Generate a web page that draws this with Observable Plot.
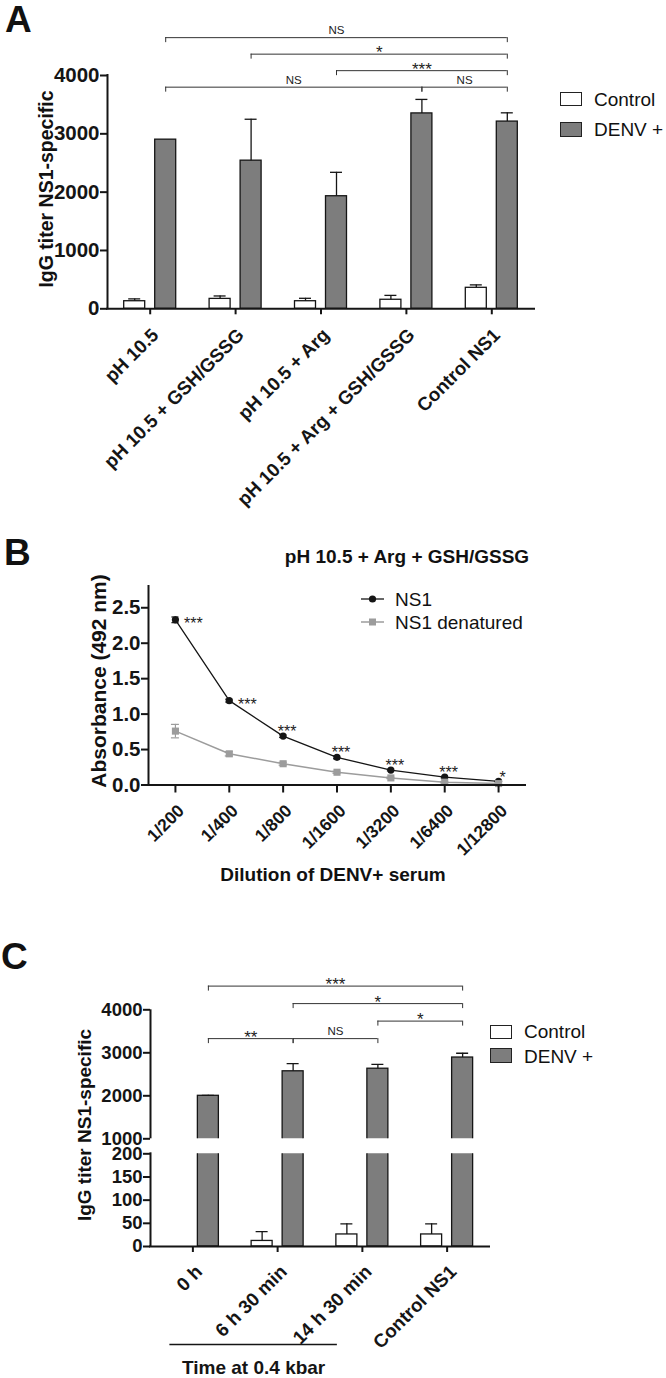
<!DOCTYPE html>
<html><head><meta charset="utf-8">
<script src="https://cdn.jsdelivr.net/npm/d3@7"></script>
<script src="https://cdn.jsdelivr.net/npm/@observablehq/plot@0.6"></script>
<style>
body{margin:0;background:#fff;}
#fig{position:relative;width:666px;height:1378px;overflow:hidden;background:#fff;font-family:"Liberation Sans",Arial,Helvetica,sans-serif;color:#111;}
#fig svg{position:absolute;left:0;overflow:visible;}
.t{position:absolute;white-space:nowrap;line-height:1;}
.box{position:absolute;box-sizing:border-box;border:1.3px solid #222;}
</style></head><body><div id="fig"></div><script>
// ================= DATA =================
// Panel A
const groupsA = ["pH 10.5", "pH 10.5 + GSH/GSSG", "pH 10.5 + Arg", "pH 10.5 + Arg + GSH/GSSG", "Control NS1"];
const seriesNames = ["Control", "DENV +"];
const controlA = [130, 170, 130, 155, 360];
const controlAErr = [40, 50, 50, 75, 50];
const denvA = [2900, 2540, 1930, 3350, 3210];
const denvAErr = [0, 710, 410, 240, 150];
const ticksA = [0, 1000, 2000, 3000, 4000];
const bracketsA = [
  {from: 0, to: 4, label: "NS", level: 3},
  {from: 1, to: 4, label: "*", level: 2},
  {from: 2, to: 4, label: "***", level: 1},
  {from: 0, to: 3, label: "NS", level: 0},
  {from: 3, to: 4, label: "NS", level: 0}
];
// Panel B
const titleB = "pH 10.5 + Arg + GSH/GSSG";
const dilutions = ["1/200", "1/400", "1/800", "1/1600", "1/3200", "1/6400", "1/12800"];
const ns1 = [2.33, 1.19, 0.69, 0.39, 0.21, 0.11, 0.05];
const ns1Err = [0.04, 0.02, 0.02, 0.02, 0.01, 0.01, 0.005];
const denat = [0.76, 0.44, 0.30, 0.18, 0.10, 0.04, 0.02];
const denatErr = [0.095, 0.03, 0.02, 0.015, 0.01, 0.01, 0.005];
const sigB = ["***", "***", "***", "***", "***", "***", "*"];
const ticksB = [0, 0.5, 1, 1.5, 2, 2.5];
const seriesB = ["NS1", "NS1 denatured"];
// Panel C
const groupsC = ["0 h", "6 h 30 min", "14 h 30 min", "Control NS1"];
const controlC = [0, 12, 26, 26];
const controlCErr = [0, 20, 23, 23];
const denvC = [2000, 2570, 2630, 2890];
const denvCErr = [12, 180, 100, 100];
const ticksCUpper = [1000, 2000, 3000, 4000];
const ticksCLower = [0, 50, 100, 150, 200];
const bracketsC = [
  {from: 0, to: 3, label: "***", level: 3},
  {from: 1, to: 3, label: "*", level: 2},
  {from: 2, to: 3, label: "*", level: 1},
  {from: 0, to: 1, label: "**", level: 0},
  {from: 1, to: 2, label: "NS", level: 0}
];
const timeSpanC = {from: 0, to: 2, label: "Time at 0.4 kbar"};

// ================= STYLE =================
const FONT = '"Liberation Sans", Arial, Helvetica, sans-serif';
const INK = "#151515";
const fills = {"Control": "#ffffff", "DENV +": "#7d7d7d"};
const GRAY = "#9c9c9c";
const BAR_W = 21, BAR_OFF = 15.5;
const fig = document.getElementById("fig");

function mkPlot(top, height, frame, opts) {
  const svg = Plot.plot({
    width: 666, height,
    marginLeft: frame.left, marginRight: 666 - frame.right,
    marginTop: frame.top - top, marginBottom: top + height - frame.bottom,
    style: {background: "transparent", overflow: "visible", fontFamily: FONT, fontSize: "19px", fontWeight: "bold", color: INK},
    ...opts
  });
  svg.style.top = top + "px";
  fig.appendChild(svg);
}

function rowsOf(groups, ctrl, ctrlErr, denv, denvErr) {
  return seriesNames.flatMap(s => groups.map((g, i) => ({
    i, group: g, series: s,
    value: s === "Control" ? ctrl[i] : denv[i],
    err: s === "Control" ? ctrlErr[i] : denvErr[i]
  })));
}

function barMarks(rows, bw, clip) {
  const marks = [];
  for (const s of seriesNames) {
    const off = s === "Control" ? -BAR_OFF : BAR_OFF;
    const data = rows.filter(r => r.series === s && r.value > 0);
    marks.push(Plot.rect(data, {
      x1: r => r.i - 0.5, x2: r => r.i + 0.5, y1: 0, y2: "value",
      insetLeft: bw / 2 + off - BAR_W / 2, insetRight: bw / 2 - off - BAR_W / 2,
      fill: fills[s], stroke: INK, strokeWidth: 1.3, clip
    }));
    const e = data.filter(r => r.err > 0);
    marks.push(Plot.ruleX(e, {x: "i", y1: "value", y2: r => r.value + r.err, dx: off, stroke: INK, strokeWidth: 1.3, clip}));
    marks.push(Plot.ruleY(e, {x1: "i", x2: "i", y: r => r.value + r.err, dx: off, insetLeft: -6, insetRight: -6, stroke: INK, strokeWidth: 1.3, clip}));
  }
  return marks;
}

function bracketMarks(brackets, yLevel) {
  const ends = brackets.flatMap(b => [{x: b.from, level: b.level}, {x: b.to, level: b.level}]);
  return [
    Plot.ruleY(brackets, {x1: "from", x2: "to", y: d => yLevel(d.level), dx: BAR_OFF, stroke: "#333", strokeWidth: 1}),
    Plot.ruleX(ends, {x: "x", y1: d => yLevel(d.level), y2: d => yLevel(d.level), dx: BAR_OFF, insetBottom: -5, stroke: "#333", strokeWidth: 1}),
    Plot.text(brackets.filter(d => d.label === "NS"), {x: d => (d.from + d.to) / 2, y: d => yLevel(d.level), text: "label", dx: BAR_OFF, dy: -3.5, lineAnchor: "bottom", fontSize: 11.5, fontWeight: "normal", fill: "#222"}),
    Plot.text(brackets.filter(d => d.label !== "NS"), {x: d => (d.from + d.to) / 2, y: d => yLevel(d.level), text: "label", dx: BAR_OFF, dy: 4, lineAnchor: "bottom", fontSize: 17, fontWeight: "normal", fill: "#222"})
  ];
}

function xLabels(labels, size, dx, dy) {
  return Plot.text(labels, {x: (d, i) => i, frameAnchor: "bottom", text: d => d, rotate: -45, textAnchor: "end", lineAnchor: "top", dx, dy, fontSize: size, fontWeight: "bold"});
}

// ---------- Panel A ----------
{
  const frame = {left: 107, right: 534, top: 75, bottom: 308.3};
  const n = groupsA.length, bw = (frame.right - frame.left) / n;
  const xDom = [-0.5, n - 0.5];
  const rows = rowsOf(groupsA, controlA, controlAErr, denvA, denvAErr);
  mkPlot(0, 540, frame, {
    x: {domain: xDom}, y: {domain: [0, 4000]},
    marks: [
      ...barMarks(rows, bw, false),
      Plot.axisY({ticks: ticksA, tickFormat: d => String(d), tickSize: 7, tickPadding: 1, fontSize: 20.5, fontWeight: "bold", strokeWidth: 2, label: null}),
      Plot.axisX({ticks: groupsA.map((d, i) => i), tickFormat: () => "", tickSize: 6, strokeWidth: 2, label: null}),
      Plot.ruleX([xDom[0]], {stroke: INK, strokeWidth: 2, strokeLinecap: "square"}),
      Plot.ruleY([0], {stroke: INK, strokeWidth: 2, strokeLinecap: "square"}),
      ...bracketMarks(bracketsA, l => 3800 + 283 * l),
      xLabels(groupsA, 18.8, 0, 18)
    ]
  });
}

// ---------- Panel B ----------
{
  const frame = {left: 148, right: 525, top: 586, bottom: 784.5};
  const xDom = [-0.5, dilutions.length - 0.5];
  const ns1Rows = dilutions.map((d, i) => ({i, value: ns1[i], err: ns1Err[i], sig: sigB[i]}));
  const denRows = dilutions.map((d, i) => ({i, value: denat[i], err: denatErr[i]}));
  const errMarks = (rows, color, capW) => [
    Plot.ruleX(rows, {x: "i", y1: r => r.value - r.err, y2: r => r.value + r.err, stroke: color, strokeWidth: 1.2}),
    Plot.ruleY(rows, {x1: "i", x2: "i", y: r => r.value + r.err, insetLeft: -capW, insetRight: -capW, stroke: color, strokeWidth: 1.2}),
    Plot.ruleY(rows, {x1: "i", x2: "i", y: r => r.value - r.err, insetLeft: -capW, insetRight: -capW, stroke: color, strokeWidth: 1.2})
  ];
  mkPlot(540, 360, frame, {
    x: {domain: xDom}, y: {domain: [0, 2.8]},
    marks: [
      Plot.line(ns1Rows, {x: "i", y: "value", stroke: INK, strokeWidth: 1.3}),
      ...errMarks(ns1Rows, INK, 3.5),
      Plot.dot(ns1Rows, {x: "i", y: "value", r: 3.6, fill: INK}),
      Plot.line(denRows, {x: "i", y: "value", stroke: GRAY, strokeWidth: 1.5}),
      ...errMarks(denRows, GRAY, 4),
      Plot.dot(denRows, {x: "i", y: "value", r: 4, symbol: "square", fill: GRAY}),
      Plot.text(ns1Rows.slice(0, 2), {x: "i", y: "value", text: "sig", dx: 18, dy: 4, fontSize: 16, fontWeight: "normal", fill: "#222"}),
      Plot.text(ns1Rows.slice(2), {x: "i", y: "value", text: "sig", dx: 4, dy: -4, fontSize: 16, fontWeight: "normal", fill: "#222"}),
      Plot.axisY({ticks: ticksB, tickFormat: d3.format(".1f"), tickSize: 7, tickPadding: 1, fontSize: 20.5, fontWeight: "bold", strokeWidth: 2, label: null}),
      Plot.axisX({ticks: dilutions.map((d, i) => i), tickFormat: () => "", tickSize: 8, strokeWidth: 2, label: null}),
      Plot.ruleX([xDom[0]], {stroke: INK, strokeWidth: 2, strokeLinecap: "square"}),
      Plot.ruleY([0], {stroke: INK, strokeWidth: 2, strokeLinecap: "square"}),
      xLabels(dilutions, 17.5, 1, 18)
    ]
  });
}

// ---------- Panel C (broken axis: two segments) ----------
{
  const left = 150, right = 489;
  const n = groupsC.length, bw = (right - left) / n;
  const xDom = [-0.5, n - 0.5];
  const rows = rowsOf(groupsC, controlC, controlCErr, denvC, denvCErr);
  // upper segment 1000-4000
  mkPlot(900, 250, {left, right, top: 1009.3, bottom: 1138.3}, {
    x: {domain: xDom, axis: null}, y: {domain: [ticksCUpper[0], ticksCUpper[ticksCUpper.length - 1]]},
    marks: [
      ...barMarks(rows, bw, true),
      Plot.axisY({ticks: ticksCUpper, tickFormat: d => String(d), tickSize: 7, tickPadding: 1, fontSize: 18.5, fontWeight: "bold", strokeWidth: 2, label: null}),
      Plot.ruleX([xDom[0]], {stroke: INK, strokeWidth: 2}),
      ...bracketMarks(bracketsC, l => 3330 + 407 * l)
    ]
  });
  // lower segment 0-200
  mkPlot(1140, 238, {left, right, top: 1153.3, bottom: 1246}, {
    x: {domain: xDom}, y: {domain: [ticksCLower[0], ticksCLower[ticksCLower.length - 1]]},
    marks: [
      ...barMarks(rows, bw, true),
      Plot.axisY({ticks: ticksCLower, tickFormat: d => String(d), tickSize: 7, tickPadding: 1, fontSize: 18.5, fontWeight: "bold", strokeWidth: 2, label: null}),
      Plot.axisX({ticks: groupsC.map((d, i) => i), tickFormat: () => "", tickSize: 6, strokeWidth: 2, label: null}),
      Plot.ruleX([xDom[0]], {stroke: INK, strokeWidth: 2, strokeLinecap: "square"}),
      Plot.ruleY([0], {stroke: INK, strokeWidth: 2, strokeLinecap: "square"}),
      xLabels(groupsC, 18.8, 1, 17),
      Plot.ruleY([0], {x1: timeSpanC.from, x2: timeSpanC.to, dy: 98, insetLeft: -23, insetRight: 25, stroke: INK, strokeWidth: 1.5}),
      Plot.text([timeSpanC], {x: d => (d.from + d.to) / 2, frameAnchor: "bottom", text: "label", dx: -24, dy: 127, lineAnchor: "bottom", fontSize: 19, fontWeight: "bold"})
    ]
  });
}

// ================= HTML TEXT, TITLES, LEGENDS =================
function txt(s, x, baseline, size, weight, align) {
  const d = document.createElement("div");
  d.className = "t";
  d.textContent = s;
  d.style.fontSize = size + "px";
  d.style.fontWeight = weight;
  d.style.top = (baseline - 0.8465 * size) + "px";
  d.style.left = x + "px";
  if (align === "center") d.style.transform = "translateX(-50%)";
  fig.appendChild(d);
}
function rotTxt(s, cx, cy, size) {
  const d = document.createElement("div");
  d.className = "t";
  d.textContent = s;
  d.style.fontSize = size + "px";
  d.style.fontWeight = "bold";
  d.style.left = cx + "px";
  d.style.top = cy + "px";
  d.style.transform = "translate(-50%,-50%) rotate(-90deg)";
  fig.appendChild(d);
}
function box(x, y, w, h, fill) {
  const d = document.createElement("div");
  d.className = "box";
  Object.assign(d.style, {left: x + "px", top: y + "px", width: w + "px", height: h + "px", background: fill});
  fig.appendChild(d);
}
// panel letters
txt("A", 5, 32, 37, "bold");
txt("B", 4, 565, 37, "bold");
txt("C", 1, 969, 37, "bold");
// axis titles
rotTxt("IgG titer NS1-specific", 47, 189, 19.5);
rotTxt("Absorbance (492 nm)", 98, 681, 21);
rotTxt("IgG titer NS1-specific", 84, 1125, 19);
txt(titleB, 407, 563, 19, "bold", "center");
txt("Dilution of DENV+ serum", 333, 881, 19, "bold", "center");
// legend A
box(560, 92, 22, 14, fills["Control"]); txt(seriesNames[0], 594, 105.8, 19, "normal");
box(560, 122, 22, 15, fills["DENV +"]); txt(seriesNames[1], 594, 135.8, 19, "normal");
// legend C
box(490, 1025, 22, 14, fills["Control"]); txt(seriesNames[0], 524, 1037.8, 19, "normal");
box(490, 1048, 22, 15, fills["DENV +"]); txt(seriesNames[1], 524, 1062.8, 19, "normal");
// legend B (line + marker swatches)
{
  const ns = "http://www.w3.org/2000/svg";
  const s = document.createElementNS(ns, "svg");
  s.setAttribute("width", 40); s.setAttribute("height", 50);
  s.style.top = "586px"; s.style.left = "352px";
  s.innerHTML = `<line x1="9" x2="32" y1="13" y2="13" stroke="${INK}" stroke-width="1.3"/><circle cx="20.5" cy="13" r="3.6" fill="${INK}"/>` +
    `<line x1="9" x2="32" y1="36" y2="36" stroke="${GRAY}" stroke-width="1.5"/><rect x="17" y="32.5" width="7" height="7" fill="${GRAY}"/>`;
  fig.appendChild(s);
  txt(seriesB[0], 395, 605.8, 19, "normal");
  txt(seriesB[1], 395, 628.8, 19, "normal");
}
</script></body></html>
